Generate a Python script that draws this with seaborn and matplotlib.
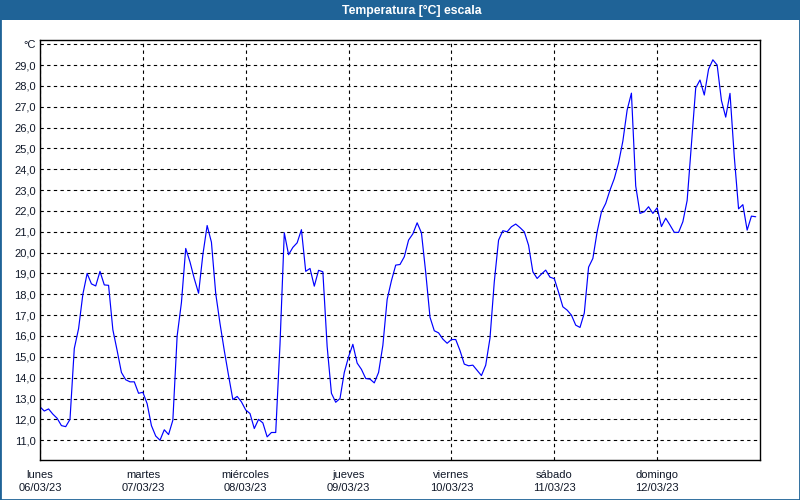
import numpy as np
import pandas as pd
import matplotlib
matplotlib.use("Agg")
import matplotlib.pyplot as plt
import seaborn as sns
from matplotlib.patches import Rectangle

title = "Temperatura [°C] escala"
day_names = ["lunes", "martes", "miércoles", "jueves", "viernes", "sábado", "domingo"]
day_dates = ["06/03/23", "07/03/23", "08/03/23", "09/03/23", "10/03/23", "11/03/23", "12/03/23"]

# hourly temperature readings (°C), one list per day
temps_lunes = [12.6, 12.4, 12.5, 12.25, 12.05, 11.7, 11.65, 12.0, 15.4, 16.35, 18.0, 19.0,
               18.5, 18.4, 19.1, 18.45, 18.43, 16.3, 15.3, 14.25, 13.9, 13.8, 13.8, 13.25]
temps_martes = [13.3, 12.75, 11.7, 11.2, 11.0, 11.5, 11.27, 11.96, 16.0, 17.6, 20.2, 19.55,
                18.75, 18.05, 19.9, 21.3, 20.5, 18.04, 16.6, 15.3, 14.1, 12.95, 13.1, 12.84]
temps_miercoles = [12.45, 12.28, 11.56, 12.0, 11.83, 11.16, 11.37, 11.37, 15.6, 20.95, 19.9, 20.25,
                   20.47, 21.1, 19.1, 19.24, 18.39, 19.15, 19.08, 15.5, 13.25, 12.82, 13.0, 14.25]
temps_jueves = [15.0, 15.6, 14.7, 14.4, 13.96, 13.93, 13.75, 14.25, 15.55, 17.75, 18.65, 19.4,
                19.43, 19.8, 20.6, 20.9, 21.43, 20.95, 19.05, 16.9, 16.25, 16.15, 15.85, 15.65]
temps_viernes = [15.83, 15.83, 15.3, 14.65, 14.57, 14.6, 14.35, 14.1, 14.6, 15.9, 18.6, 20.6,
                 21.05, 21.0, 21.24, 21.37, 21.2, 21.0, 20.35, 19.08, 18.76, 18.97, 19.16, 18.82]
temps_sabado = [18.75, 18.1, 17.4, 17.24, 17.0, 16.52, 16.41, 17.1, 19.3, 19.72, 21.0, 21.95,
                22.36, 23.0, 23.55, 24.3, 25.35, 26.84, 27.65, 23.2, 21.88, 21.96, 22.2, 21.88]
temps_domingo = [22.15, 21.25, 21.65, 21.32, 20.97, 20.97, 21.48, 22.5, 25.2, 27.9, 28.28, 27.56,
                 28.8, 29.25, 29.0, 27.3, 26.5, 27.64, 24.6, 22.1, 22.3, 21.08, 21.75, 21.72]

temps = (temps_lunes + temps_martes + temps_miercoles + temps_jueves +
         temps_viernes + temps_sabado + temps_domingo)
hours = np.arange(len(temps))

sns.set_style("white")
plt.rcParams['font.family'] = ['Liberation Sans', 'DejaVu Sans']

BLUE = "#1f6397"
TXT = "#101828"

fig = plt.figure(figsize=(8, 5), dpi=100)
fig.patch.set_facecolor("white")
ax = fig.add_axes([40 / 800, 40 / 500, 720 / 800, 420 / 500])

df = pd.DataFrame({"hora": hours, "temp": temps})
sns.lineplot(data=df, x="hora", y="temp", ax=ax, color="#0000ff", linewidth=0.85)

ax.set_xlim(0, 168)
ax.set_ylim(10.05, 30.2)
yvals = list(range(11, 31))
ax.set_yticks(yvals)
ax.set_yticklabels([f"{v},0" for v in yvals[:-1]] + ["°C"])
ax.set_xticks(np.arange(0, 168, 24))
ax.set_xticklabels([f"{n}\n{d}" for n, d in zip(day_names, day_dates)], linespacing=1.45)
ax.grid(True, color="black", linestyle=(0, (3, 3)), linewidth=0.8)
ax.tick_params(axis="y", length=0, labelsize=8, pad=3, colors=TXT)
ax.tick_params(axis="x", length=0, labelsize=8, pad=7, colors=TXT)
for s in ax.spines.values():
    s.set_color("black")
    s.set_linewidth(1.0)
ax.set_xlabel("")
ax.set_ylabel("")

fig.patches.append(Rectangle((0, 1 - 20 / 500), 1, 20 / 500, transform=fig.transFigure,
                             facecolor=BLUE, edgecolor="none", zorder=0))
fig.text(412 / 800, 1 - 10.5 / 500, title, color="white", weight="bold", fontsize=8.8,
         ha="center", va="center")
fig.patches.append(Rectangle((0, 0), 1, 1, transform=fig.transFigure, fill=False,
                             edgecolor=BLUE, linewidth=2))

fig.savefig("out.png", dpi=100)
